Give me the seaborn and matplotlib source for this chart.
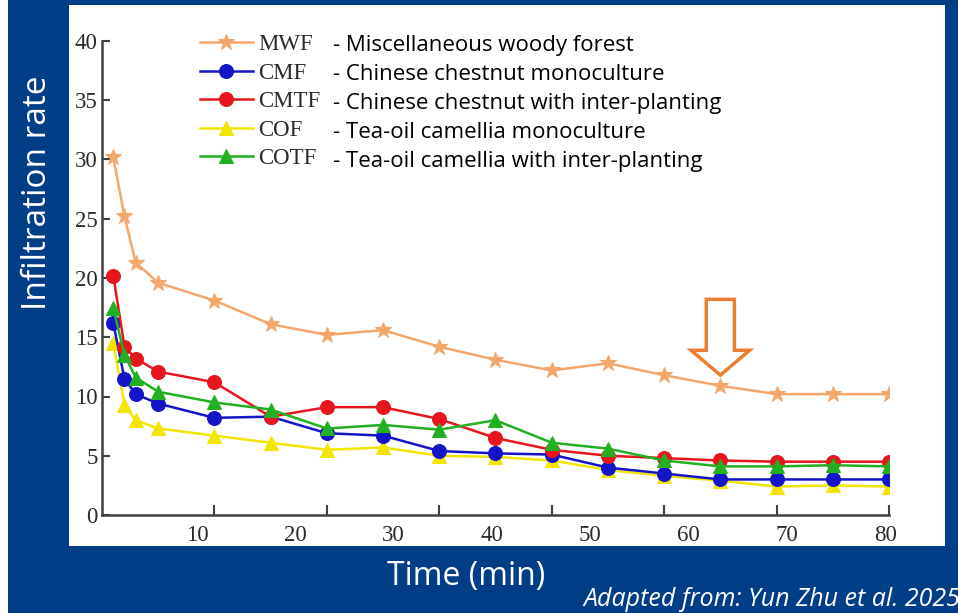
import numpy as np
import pandas as pd
import seaborn as sns
import matplotlib.pyplot as plt
from matplotlib.patches import Rectangle, FancyArrow

# Time points (min) and infiltration rates
time_min = [1, 2, 3, 5, 10, 15, 20, 25, 30, 35, 40, 45, 50, 55, 60, 65, 70]
mwf = [30.2, 25.2, 21.3, 19.6, 18.1, 16.1, 15.2, 15.6, 14.2, 13.1, 12.2, 12.8, 11.8, 10.9, 10.2, 10.2, 10.2]
cmf = [16.2, 11.5, 10.2, 9.4, 8.2, 8.3, 6.9, 6.7, 5.4, 5.2, 5.1, 4.0, 3.5, 3.0, 3.0, 3.0, 3.0]
cmtf = [20.2, 14.2, 13.2, 12.1, 11.2, 8.3, 9.1, 9.1, 8.1, 6.5, 5.5, 5.0, 4.8, 4.6, 4.5, 4.5, 4.5]
cof = [14.5, 9.3, 8.0, 7.3, 6.7, 6.1, 5.5, 5.7, 5.0, 4.9, 4.6, 3.8, 3.3, 2.9, 2.4, 2.5, 2.4]
cotf = [17.5, 13.5, 11.6, 10.4, 9.5, 8.9, 7.3, 7.6, 7.2, 8.0, 6.1, 5.6, 4.6, 4.1, 4.1, 4.2, 4.1]

codes = ['MWF', 'CMF', 'CMTF', 'COF', 'COTF']
descriptions = ['- Miscellaneous woody forest',
                '- Chinese chestnut monoculture',
                '- Chinese chestnut with inter-planting',
                '- Tea-oil camellia monoculture',
                '- Tea-oil camellia with inter-planting']
x_labels = [10, 20, 30, 40, 50, 60, 70, 80]
y_ticks = [0, 5, 10, 15, 20, 25, 30, 35, 40]

series = {'MWF': mwf, 'CMF': cmf, 'CMTF': cmtf, 'COF': cof, 'COTF': cotf}
colors = {'MWF': '#F5A66B', 'CMF': '#1414C8', 'CMTF': '#E8141E', 'COF': '#F2E600', 'COTF': '#22B022'}
markers = {'MWF': '*', 'CMF': 'o', 'CMTF': 'o', 'COF': '^', 'COTF': '^'}
msizes = {'MWF': 12, 'CMF': 10, 'CMTF': 10, 'COF': 10, 'COTF': 10}
draw_order = ['MWF', 'COF', 'CMF', 'CMTF', 'COTF']

df = pd.DataFrame({'time': time_min, **series})

W, H = 958, 613
fig = plt.figure(figsize=(W / 100, H / 100), dpi=100)
fig.patch.set_facecolor('#003F87')
fig.add_artist(Rectangle((69 / W, 1 - 546 / H), (945 - 69) / W, (546 - 5) / H,
                         transform=fig.transFigure, facecolor='white', edgecolor='none', zorder=0))
fig.add_artist(Rectangle((0, 0), 8 / W, 1, transform=fig.transFigure,
                         facecolor='white', edgecolor='none', zorder=0))

ax = fig.add_axes([102 / W, 1 - 515 / H, 787 / W, 474 / H])
ax.set_facecolor('white')

for code in draw_order:
    sns.lineplot(data=df, x='time', y=code, ax=ax, color=colors[code], marker=markers[code],
                 markersize=msizes[code], markeredgecolor=colors[code], linewidth=1.8,
                 label=code, zorder=3)

ax.set_xlim(0, 70)
ax.set_ylim(0, 40)
ax.set_xlabel('')
ax.set_ylabel('')
for side in ['top', 'right']:
    ax.spines[side].set_visible(False)
for side in ['left', 'bottom']:
    ax.spines[side].set_color('#404040')
    ax.spines[side].set_linewidth(1.8)

ax.set_xticks(range(10, 71, 10))
ax.set_yticks(y_ticks)
ax.tick_params(axis='x', direction='in', length=7, width=1.5, color='#404040', labelbottom=False)
ax.tick_params(axis='y', direction='in', length=6, width=1.5, color='#404040', pad=3,
               labelsize=16.5, labelcolor='#2a2a2a')
for lab in ax.get_yticklabels():
    lab.set_family('Liberation Serif')

# the printed axis labels sit on their own (slightly different) scale
def fwd(t):
    return 0.336 + 1.1437 * np.asarray(t)


def inv(u):
    return (np.asarray(u) - 0.336) / 1.1437


sec = ax.secondary_xaxis('bottom', functions=(fwd, inv))
sec.set_xticks(x_labels)
sec.spines['bottom'].set_visible(False)
sec.tick_params(length=0, pad=7, labelsize=16.5, labelcolor='#2a2a2a')
for lab in sec.get_xticklabels():
    lab.set_family('Liberation Serif')

# legend
handles, labels = ax.get_legend_handles_labels()
hmap = dict(zip(labels, handles))
if ax.get_legend() is not None:
    ax.get_legend().remove()
fig.legend([hmap[c] for c in codes], codes, loc='upper left',
           bbox_to_anchor=(200 / W, 1 - 34 / H), frameon=False, borderpad=0, borderaxespad=0,
           handlelength=2.3, handletextpad=0.25, labelspacing=0.33,
           prop={'family': 'Liberation Serif', 'size': 16.5}, labelcolor='#2a2a2a')
for i, d in enumerate(descriptions):
    fig.text(333 / W, 1 - (46 + 29 * i) / H, d, ha='left', va='center',
             fontsize=16, family='Open Sans', color='black')

# hollow orange arrow pointing at the 55-min MWF point
tip_x, tip_y = time_min[13], mwf[13] + 0.9
ax.add_patch(FancyArrow(tip_x, tip_y + 6.4, 0, -6.4, width=2.5, head_width=5.2, head_length=2.1,
                        length_includes_head=True, facecolor='white', edgecolor='#ED7D31',
                        linewidth=2.5, zorder=5))

fig.text(38 / W, 1 - 193 / H, 'Infiltration rate', rotation=90, ha='center', va='center',
         fontsize=24, family='Open Sans', color='white')
fig.text(466 / W, 1 - 577 / H, 'Time (min)', ha='center', va='center',
         fontsize=23, family='Open Sans', color='white')
fig.text(583 / W, 1 - 600 / H, 'Adapted from: Yun Zhu et al. 2025', ha='left', va='center',
         fontsize=18, style='italic', family='Open Sans', color='white')

fig.savefig('out.png', dpi=100, facecolor=fig.get_facecolor())
